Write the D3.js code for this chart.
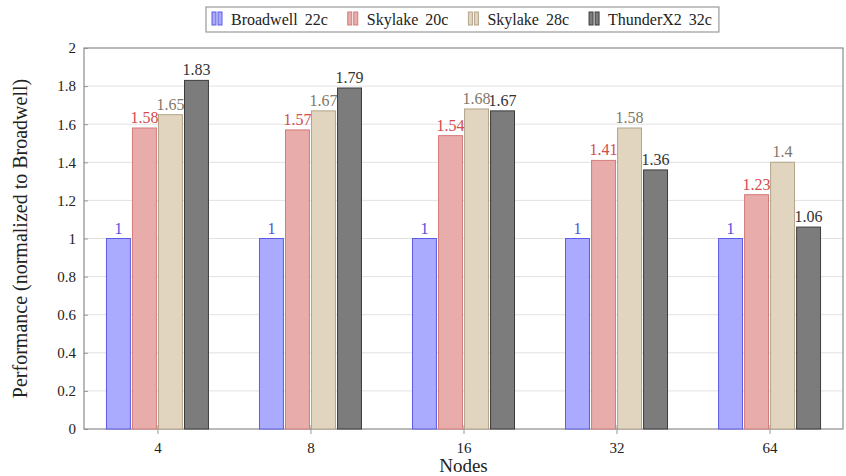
<!DOCTYPE html>
<html>
<head>
<meta charset="utf-8">
<script src="https://cdn.jsdelivr.net/npm/d3@7"></script>
</head>
<body style="margin:0; background:#fff">
<div id="chart"></div>
<script>
// data
const nodes = ['4', '8', '16', '32', '64'];
const series = ['Broadwell 22c', 'Skylake 20c', 'Skylake 28c', 'ThunderX2 32c'];
const broadwell = [1, 1, 1, 1, 1];
const skylake20 = [1.58, 1.57, 1.54, 1.41, 1.23];
const skylake28 = [1.65, 1.67, 1.68, 1.58, 1.4];
const thunderx2 = [1.83, 1.79, 1.67, 1.36, 1.06];
const yTicks = [0, 0.2, 0.4, 0.6, 0.8, 1, 1.2, 1.4, 1.6, 1.8, 2];

const values = [broadwell, skylake20, skylake28, thunderx2];
const fills = ['#aaaaff', '#e8acaa', '#e2d5bf', '#7c7c7c'];
const strokes = ['#5c5ce6', '#d47c7c', '#b3a58c', '#3c3c3c'];
const labelColors = ['#5252dd', '#d44c4c', '#7f7868', '#333'];
const FONT = 'Liberation Serif';

const width = 846, height = 476;
const margin = { left: 84, right: 3, top: 48, bottom: 47 };
const innerW = width - margin.left - margin.right;
const innerH = height - margin.top - margin.bottom;

const svg = d3.select('#chart').append('svg')
   .attr('width', width)
   .attr('height', height)
   .attr('font-family', FONT);

const g = svg.append('g')
   .attr('transform', `translate(${margin.left}, ${margin.top})`);

const x = d3.scalePoint()
   .domain(nodes)
   .range([0, innerW])
   .padding(0.48);

const xInner = d3.scaleBand()
   .domain(d3.range(series.length))
   .range([-51, 51])
   .paddingInner(0.08);

const y = d3.scaleLinear()
   .domain([0, 2])
   .range([innerH, 0]);

// grid
g.append('g')
   .selectAll('line')
   .data(yTicks.slice(1, -1))
   .enter().append('line')
      .attr('x1', 0)
      .attr('x2', innerW)
      .attr('y1', d => y(d))
      .attr('y2', d => y(d))
      .attr('stroke', '#e2e2e2')
      .attr('stroke-width', 1);

// axes
const yAxis = g.append('g')
   .call(d3.axisLeft(y).tickValues(yTicks).tickSize(-4).tickPadding(8).tickFormat(d3.format('~g')));
const xAxis = g.append('g')
   .attr('transform', `translate(0, ${innerH})`)
   .call(d3.axisBottom(x).tickSize(5).tickPadding(8));

[yAxis, xAxis].forEach(a => {
   a.attr('font-family', FONT).attr('font-size', 15);
   a.select('.domain').remove();
   a.selectAll('line').attr('stroke', '#999');
   a.selectAll('text').attr('fill', '#222');
});
xAxis.selectAll('line').attr('y1', -4).attr('y2', 5);

// frame
g.append('rect')
   .attr('width', innerW)
   .attr('height', innerH)
   .attr('fill', 'none')
   .attr('stroke', '#8c8c8c')
   .attr('stroke-width', 1.2);

// bars
series.forEach((s, si) => {
   const sg = g.append('g');
   sg.selectAll('rect')
      .data(values[si])
      .enter().append('rect')
         .attr('x', (d, i) => x(nodes[i]) + xInner(si))
         .attr('width', xInner.bandwidth())
         .attr('y', d => y(d))
         .attr('height', d => innerH - y(d))
         .attr('fill', fills[si])
         .attr('stroke', strokes[si])
         .attr('stroke-width', 1);

   sg.selectAll('text')
      .data(values[si])
      .enter().append('text')
         .attr('x', (d, i) => x(nodes[i]) + xInner(si) + xInner.bandwidth() / 2)
         .attr('y', d => y(d) - 5)
         .attr('text-anchor', 'middle')
         .attr('font-size', 16)
         .attr('fill', labelColors[si])
         .text(d => d3.format('~g')(d));
});

// axis titles
g.append('text')
   .attr('x', innerW / 2)
   .attr('y', innerH + 43)
   .attr('text-anchor', 'middle')
   .attr('font-size', 19)
   .attr('fill', '#222')
   .text('Nodes');

g.append('text')
   .attr('transform', 'rotate(-90)')
   .attr('x', -innerH / 2)
   .attr('y', -57)
   .attr('text-anchor', 'middle')
   .attr('font-size', 20)
   .attr('fill', '#222')
   .text('Performance (normalized to Broadwell)');

// legend
const legend = svg.append('g');
const legendBox = legend.append('rect')
   .attr('fill', '#fff')
   .attr('stroke', '#999')
   .attr('stroke-width', 1.2);

let lx = 212;
series.forEach((s, si) => {
   const item = legend.append('g').attr('transform', `translate(${lx}, 0)`);
   [0, 6].forEach(dx => {
      item.append('rect')
         .attr('x', dx)
         .attr('y', 12)
         .attr('width', 4)
         .attr('height', 13)
         .attr('fill', fills[si])
         .attr('stroke', strokes[si]);
   });
   const t = item.append('text')
      .attr('x', 19)
      .attr('y', 25)
      .attr('font-size', 16)
      .attr('word-spacing', 3)
      .attr('fill', '#222')
      .text(s);
   lx += 19 + t.node().getComputedTextLength() + 20;
});
legendBox
   .attr('x', 206)
   .attr('y', 7)
   .attr('width', lx - 20 + 7 - 206)
   .attr('height', 25);
</script>
</body>
</html>
